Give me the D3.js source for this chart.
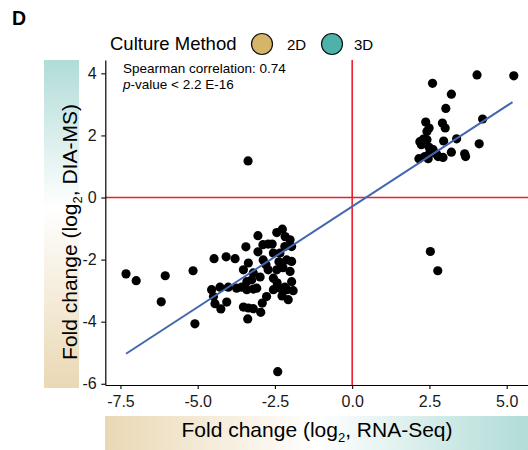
<!DOCTYPE html>
<html><head><meta charset="utf-8">
<script src="https://cdn.jsdelivr.net/npm/d3@7"></script>
<style>
html,body{margin:0;padding:0;background:#fff;}
svg text{font-family:"Liberation Sans",Arial,Helvetica,sans-serif;}
</style></head>
<body>
<svg id="chart" width="528" height="450"></svg>
<script>
// RNA-Seq log2 fold change (x) and DIA-MS log2 fold change (y)
const rnaSeq = [
 2.60,4.04,5.23,3.21,3.03,4.22,2.38,2.92,3.01,2.49,2.42,2.30,2.19,2.42,2.24,2.96,3.38,4.11,2.49,2.62,2.51,2.73,3.21,3.64,3.67,2.94,2.16,2.46,2.35,2.78,2.53,2.77,
 -7.32,-6.99,-6.05,-6.18,-5.15,-5.09,-4.47,-4.08,-3.79,-3.44,-3.05,-2.41,-3.37,
 -2.44,-2.26,-2.72,-2.59,-2.17,-2.01,-1.96,-2.18,-2.34,-2.55,-2.88,-3.36,-3.52,-3.20,-2.98,-3.25,-3.41,-2.72,-2.55,-2.44,-2.12,-1.96,-2.01,-1.96,-1.91,-2.07,-2.18,-2.34,-2.55,-2.77,-2.91,-2.96,-3.20,-3.36,-3.52,-3.38,-4.06,-4.25,-4.44,-4.55,-4.49,-4.28,-4.01,-3.74,-3.58,-3.41,-3.20,-3.09,
 -2.24,-2.37,-2.79,-3.05,-2.89,-2.11,-2.27,-2.43
];
const diaMs = [
 3.68,3.95,3.92,3.33,2.87,2.53,2.43,2.40,2.24,2.24,2.13,1.88,1.80,1.86,1.70,1.82,1.89,1.73,1.62,1.54,1.43,1.40,1.46,1.41,1.32,1.29,1.25,1.25,1.32,1.32,-1.74,-2.36,
 -2.46,-2.68,-2.52,-3.36,-2.36,-4.07,-1.97,-1.91,-1.97,-1.59,-1.23,-5.61,1.18,
 -1.13,-1.02,-1.50,-1.50,-1.26,-1.36,-1.58,-1.58,-1.79,-1.79,-2.01,-2.11,-2.33,-2.43,-2.56,-2.65,-2.71,-2.33,-2.60,-2.33,-2.01,-2.06,-2.38,-2.71,-3.00,-3.29,-2.89,-2.92,-2.97,-3.19,-3.40,-3.70,-3.58,-3.56,-3.53,-3.91,-3.37,-3.59,-3.42,-2.97,-3.19,-2.89,-2.89,-2.92,-2.89,-2.97,-2.95,-2.92,
 -2.26,-2.07,-2.17,-1.75,-1.52,-2.97,-3.17,-2.75
];
const xTicks = [-7.5,-5.0,-2.5,0.0,2.5,5.0];
const yTicks = [-6,-4,-2,0,2,4];
const fitLine = {xFrom:-7.32, xTo:5.19, slope:0.648, intercept:-0.29};
const legendLabels = ["2D","3D"];
const legendColors = ["#D6B46A","#4DB3A8"];

const svg = d3.select("#chart");
const L=105.3, R=528, T=60, B=385;
const x = d3.scaleLinear().domain([-7.99,5.69]).range([L,R]);
const y = d3.scaleLinear().domain([-6.04,4.43]).range([B,T]);

// gradients
const defs = svg.append("defs");
const gy = defs.append("linearGradient").attr("id","gy").attr("x1",0).attr("y1",0).attr("x2",0).attr("y2",1);
gy.append("stop").attr("offset","0%").attr("stop-color","#B1DCD7");
gy.append("stop").attr("offset","45%").attr("stop-color","#FFFFFF");
gy.append("stop").attr("offset","100%").attr("stop-color","#EAD8B4");
const gx = defs.append("linearGradient").attr("id","gx").attr("x1",0).attr("y1",0).attr("x2",1).attr("y2",0);
gx.append("stop").attr("offset","0%").attr("stop-color","#EAD8B4");
gx.append("stop").attr("offset","50%").attr("stop-color","#FFFFFF");
gx.append("stop").attr("offset","100%").attr("stop-color","#B1DCD7");

svg.append("rect").attr("x",44).attr("y",60).attr("width",35).attr("height",328).attr("fill","url(#gy)");
svg.append("rect").attr("x",105).attr("y",416).attr("width",423).attr("height",34).attr("fill","url(#gx)");

// panel label
svg.append("text").attr("x",12).attr("y",25).attr("font-size",19.5).attr("font-weight","bold").text("D");

// legend
svg.append("text").attr("x",110).attr("y",50).attr("font-size",18.5).text("Culture Method");
const lx=[262,332], tx=[287,354];
legendLabels.forEach((lab,i)=>{
  svg.append("circle").attr("cx",lx[i]).attr("cy",44).attr("r",10.5).attr("fill",legendColors[i]).attr("stroke","#111").attr("stroke-width",1.2);
  svg.append("text").attr("x",tx[i]).attr("y",50).attr("font-size",15).text(lab);
});

// reference lines
svg.append("line").attr("x1",x(0)).attr("x2",x(0)).attr("y1",T).attr("y2",B).attr("stroke","#E8202A").attr("stroke-width",1.6);
svg.append("line").attr("x1",L).attr("x2",R).attr("y1",y(0)).attr("y2",y(0)).attr("stroke","#E8202A").attr("stroke-width",1.6);

// points
const pts = rnaSeq.map((v,i)=>[v,diaMs[i]]);
svg.append("g").selectAll("circle").data(pts).join("circle")
  .attr("cx",d=>x(d[0])).attr("cy",d=>y(d[1])).attr("r",4.6).attr("fill","#000");

// regression line
svg.append("line")
  .attr("x1",x(fitLine.xFrom)).attr("y1",y(fitLine.slope*fitLine.xFrom+fitLine.intercept))
  .attr("x2",x(fitLine.xTo)).attr("y2",y(fitLine.slope*fitLine.xTo+fitLine.intercept))
  .attr("stroke","#4466B0").attr("stroke-width",2);

// axes
const xa = svg.append("g").attr("transform",`translate(0,${B})`)
  .call(d3.axisBottom(x).tickValues(xTicks).tickFormat(d3.format(".1f")).tickSize(4).tickSizeOuter(0));
const ya = svg.append("g").attr("transform",`translate(${L},0)`)
  .call(d3.axisLeft(y).tickValues(yTicks).tickFormat(d3.format("d")).tickSize(4).tickSizeOuter(0));
[xa,ya].forEach(a=>{
  a.select(".domain").attr("stroke","#000").attr("stroke-width",1.2);
  a.selectAll(".tick line").attr("stroke","#000").attr("stroke-width",1.1);
  a.selectAll(".tick text").attr("font-size",16).attr("fill","#1a1a1a").attr("font-family","Liberation Sans, Arial, sans-serif");
});
xa.selectAll(".tick text").attr("dy","0.95em");
ya.selectAll(".tick text").attr("dx","-0.1em");
xa.selectAll(".tick text").text(d=>d3.format(".1f")(d).replace("−","-"));
ya.selectAll(".tick text").text(d=>String(d).replace("−","-"));

// annotation
svg.append("text").attr("x",123).attr("y",73).attr("font-size",13.5).text("Spearman correlation: 0.74");
const pv = svg.append("text").attr("x",123).attr("y",89).attr("font-size",13.5);
pv.append("tspan").attr("font-style","italic").text("p");
pv.append("tspan").text("-value < 2.2 E-16");

// axis titles
const xt = svg.append("text").attr("x",317).attr("y",437).attr("text-anchor","middle").attr("font-size",21);
xt.append("tspan").text("Fold change (log");
xt.append("tspan").attr("font-size",13).attr("dy",5).text("2");
xt.append("tspan").attr("dy",-5).text(", RNA-Seq)");
const yt = svg.append("text").attr("transform","translate(77,232) rotate(-90)").attr("text-anchor","middle").attr("font-size",21);
yt.append("tspan").text("Fold change (log");
yt.append("tspan").attr("font-size",13).attr("dy",5).text("2");
yt.append("tspan").attr("dy",-5).text(", DIA-MS)");
</script>
</body></html>
